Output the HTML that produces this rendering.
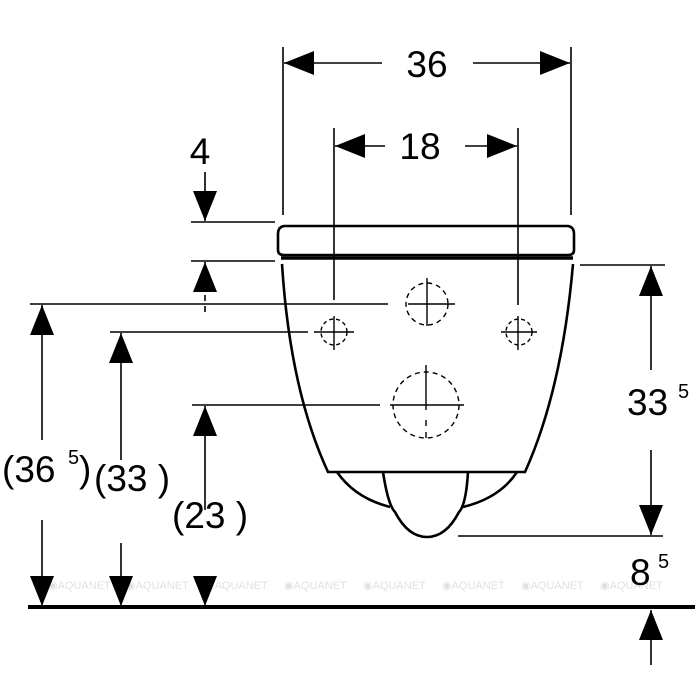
<!DOCTYPE html>
<html><head><style>body{margin:0;background:#fff}svg{display:block}</style></head><body>
<svg width="700" height="700" viewBox="0 0 700 700" xmlns="http://www.w3.org/2000/svg" font-family="Liberation Sans, sans-serif">
<defs>
<marker id="a" viewBox="0 0 30 24" refX="30" refY="12" markerWidth="30" markerHeight="24" markerUnits="userSpaceOnUse" orient="auto"><path d="M0,0 L30,12 L0,24 Z" fill="#000"/></marker>
</defs>
<g fill="#ccc" font-size="11" opacity="0.6">
<text x="48" y="589">◉AQUANET</text><text x="126" y="589">◉AQUANET</text><text x="205" y="589">◉AQUANET</text><text x="284" y="589">◉AQUANET</text><text x="363" y="589">◉AQUANET</text><text x="442" y="589">◉AQUANET</text><text x="521" y="589">◉AQUANET</text><text x="600" y="589">◉AQUANET</text>
</g>
<g stroke="#000" stroke-width="1.6" fill="none">
<!-- extension lines top -->
<line x1="283" y1="47" x2="283" y2="215"/><line x1="571" y1="47" x2="571" y2="215"/>
<line x1="334" y1="128" x2="334" y2="300"/><line x1="518" y1="128" x2="518" y2="305"/>
<line x1="382" y1="63" x2="284" y2="63" marker-end="url(#a)"/>
<line x1="473" y1="63" x2="570" y2="63" marker-end="url(#a)"/>
<line x1="385" y1="146" x2="335" y2="146" marker-end="url(#a)"/>
<line x1="465" y1="146" x2="517" y2="146" marker-end="url(#a)"/>
<!-- 4 -->
<line x1="205" y1="172" x2="205" y2="221" marker-end="url(#a)"/>
<line x1="191" y1="222" x2="275" y2="222"/>
<line x1="191" y1="261" x2="275" y2="261"/>
<line x1="205" y1="290" x2="205" y2="262" marker-end="url(#a)"/>
<line x1="205" y1="295" x2="205" y2="314" stroke-dasharray="6,5"/>
<!-- horizontal ext lines -->
<line x1="30" y1="304" x2="388" y2="304"/>
<line x1="110" y1="332" x2="308" y2="332"/>
<line x1="192" y1="405" x2="380" y2="405"/>
<line x1="580" y1="265" x2="665" y2="265"/>
<line x1="458" y1="536" x2="663" y2="536"/>
<!-- left dims -->
<line x1="42" y1="440" x2="42" y2="305" marker-end="url(#a)"/>
<line x1="42" y1="520" x2="42" y2="606" marker-end="url(#a)"/>
<line x1="121" y1="460" x2="121" y2="333" marker-end="url(#a)"/>
<line x1="121" y1="543" x2="121" y2="606" marker-end="url(#a)"/>
<line x1="205" y1="510" x2="205" y2="406" marker-end="url(#a)"/>
<line x1="205" y1="598" x2="205" y2="606" marker-end="url(#a)"/>
<!-- right dims -->
<line x1="651" y1="370" x2="651" y2="266" marker-end="url(#a)"/>
<line x1="651" y1="450" x2="651" y2="535" marker-end="url(#a)"/>
<line x1="651" y1="665" x2="651" y2="610" marker-end="url(#a)"/>
</g>
<line x1="28" y1="607" x2="695" y2="607" stroke="#000" stroke-width="4"/>
<!-- toilet -->
<g stroke="#000" stroke-width="2.6" fill="none">
<path d="M284,226 L568,226 Q574,227 574,234 L574,250 Q574,255 568,255 L284,255 Q278,255 278,250 L278,234 Q278,227 284,226 Z"/>
<line x1="281" y1="258" x2="573" y2="258" stroke-width="3.5"/>
<path d="M282,264 Q290,390 328,472 L525,472 Q562,390 573,264"/>
<path d="M337,472 Q355,498 390,507"/>
<path d="M517,472 Q500,498 463,507"/>
<path d="M383,472 Q388,505 395,512 Q408,537 427,537 Q446,537 459,512 Q466,505 468,472"/>
</g>
<g stroke="#000" stroke-width="1.4" fill="none">
<circle cx="427" cy="304" r="21" stroke-dasharray="5,4"/>
<line x1="427" y1="278" x2="427" y2="326"/><line x1="408" y1="304" x2="455" y2="304"/>
<circle cx="334" cy="332" r="13" stroke-dasharray="4,3"/>
<line x1="314" y1="332" x2="354" y2="332"/><line x1="334" y1="316" x2="334" y2="350"/>
<circle cx="519" cy="332" r="13" stroke-dasharray="4,3"/>
<line x1="501" y1="332" x2="537" y2="332"/><line x1="518" y1="316" x2="518" y2="350"/>
<circle cx="426" cy="405" r="33" stroke-dasharray="5,4"/>
<line x1="426" y1="365" x2="426" y2="410"/><line x1="390" y1="405" x2="464" y2="405"/>
<line x1="426" y1="420" x2="426" y2="444" stroke-dasharray="6,6"/>
</g>
<g fill="#000" font-size="37">
<text x="427" y="77" text-anchor="middle">36</text>
<text x="420" y="159" text-anchor="middle">18</text>
<text x="200" y="164" text-anchor="middle">4</text>
<text x="2" y="482">(36</text><text x="68" y="464" font-size="20">5</text><text x="79" y="482">)</text>
<text x="94" y="491">(33 )</text>
<text x="172" y="528">(23 )</text>
<text x="627" y="415">33</text><text x="678" y="398" font-size="20">5</text>
<text x="630" y="585">8</text><text x="658" y="568" font-size="20">5</text>
</g>
</svg>
</body></html>
